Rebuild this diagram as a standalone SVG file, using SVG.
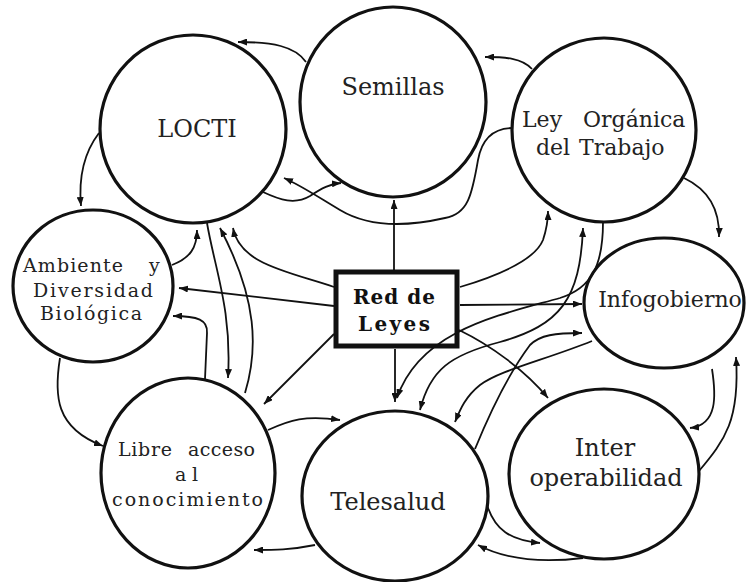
<svg xmlns="http://www.w3.org/2000/svg" width="748" height="582" viewBox="0 0 748 582">
<defs>
<marker id="ah" viewBox="0 0 9 7" refX="9" refY="3.5" markerWidth="9" markerHeight="7" markerUnits="userSpaceOnUse" orient="auto-start-reverse">
<path d="M0,0 L9,3.5 L0,7 z" fill="#111"/>
</marker>
<style>
.node{fill:#fff;stroke:#111;stroke-width:3.2}
.box{fill:#fff;stroke:#111;stroke-width:5}
.lbl{font-family:"DejaVu Serif","Liberation Serif",serif;fill:#222}
.big{font-size:24px}
.mid{font-size:22px}
.sm{font-size:19px}
.bold{font-size:20px;font-weight:bold;fill:#111}
.c{fill:none;stroke:#111;stroke-width:1.8;marker-end:url(#ah)}
.d{fill:none;stroke:#111;stroke-width:1.8;marker-start:url(#ah);marker-end:url(#ah)}
</style>
</defs>
<rect width="748" height="582" fill="#fff"/>

<g id="n-locti">
<ellipse class="node" cx="193" cy="129" rx="93" ry="94"/>
<text class="lbl big" x="197" y="137" text-anchor="middle">LOCTI</text>
</g>
<g id="n-semillas">
<ellipse class="node" cx="393" cy="102" rx="93" ry="95"/>
<text class="lbl big" x="393" y="95" text-anchor="middle">Semillas</text>
</g>
<g id="n-ley">
<ellipse class="node" cx="604" cy="130" rx="92" ry="92"/>
<text class="lbl mid" y="127"><tspan x="522">Ley</tspan><tspan x="583">Orgánica</tspan></text>
<text class="lbl mid" y="155"><tspan x="536">del</tspan><tspan x="579">Trabajo</tspan></text>
</g>
<g id="n-infogobierno">
<ellipse class="node" cx="664" cy="303" rx="80" ry="65"/>
<text class="lbl mid" x="670" y="307" text-anchor="middle">Infogobierno</text>
</g>
<g id="n-inter">
<ellipse class="node" cx="604" cy="474" rx="95" ry="85"/>
<text class="lbl big" x="605" y="456" text-anchor="middle">Inter</text>
<text class="lbl big" x="606" y="486" text-anchor="middle">operabilidad</text>
</g>
<g id="n-telesalud">
<ellipse class="node" cx="395" cy="496" rx="93" ry="85"/>
<text class="lbl big" x="388" y="510" text-anchor="middle">Telesalud</text>
</g>
<g id="n-libre">
<ellipse class="node" cx="188" cy="473" rx="87" ry="95"/>
<text class="lbl sm" y="456"><tspan x="118" textLength="54" lengthAdjust="spacing">Libre</tspan><tspan x="188" textLength="67" lengthAdjust="spacing">acceso</tspan></text>
<text class="lbl sm" x="175" y="481" textLength="23" lengthAdjust="spacing">a l</text>
<text class="lbl sm" x="112" y="506" textLength="151" lengthAdjust="spacing">conocimiento</text>
</g>
<g id="n-ambiente">
<ellipse class="node" cx="93" cy="286" rx="80" ry="76"/>
<text class="lbl sm" y="272"><tspan x="23" textLength="100" lengthAdjust="spacing">Ambiente</tspan><tspan x="149">y</tspan></text>
<text class="lbl sm" x="33" y="297" textLength="120" lengthAdjust="spacing">Diversidad</text>
<text class="lbl sm" x="40" y="320" textLength="102" lengthAdjust="spacing">Biológica</text>
</g>
<g id="n-red">
<rect class="box" x="336" y="272" width="121" height="74"/>
<text class="lbl bold" x="353" y="304" textLength="82" lengthAdjust="spacing">Red de</text>
<text class="lbl bold" x="358" y="331" textLength="72" lengthAdjust="spacing">Leyes</text>
</g>

<g id="connectors">
<path class="c" d="M306,62 C295,46 272,42 238,42"/>
<path class="c" d="M532,69 C522,58 505,57 485,57"/>
<path class="c" d="M99,133 C86,150 78,172 81,206"/>
<path class="c" d="M684,178 C705,188 720,205 719,237"/>
<path class="c" d="M172,265 C190,258 197,248 197,230"/>
<path class="c" d="M334,306 L179,288"/>
<path class="c" d="M205,379 L207,333 C208,320 198,316 173,316"/>
<path class="c" d="M60,358 C54,395 55,428 103,446"/>
<path class="c" d="M207,223 C215,270 232,310 228,378"/>
<path class="c" d="M245,393 C258,350 258,300 220,228"/>
<path class="c" d="M334,287 C290,272 240,265 233,228"/>
<path class="c" d="M334,334 L264,404"/>
<path class="c" d="M268,430 C290,420 305,415 340,420"/>
<path class="c" d="M315,545 C290,550 275,550 254,550"/>
<path class="c" d="M394,270 L394,200"/>
<path class="c" d="M395,349 L395,402"/>
<path class="c" d="M460,305 L582,304"/>
<path class="c" d="M460,287 C500,275 535,260 543,240 C547,228 548,220 548,211"/>
<path class="c" d="M459,330 C490,345 525,370 548,398"/>
<path class="c" d="M513,128 C495,128 482,138 478,160 C472,195 468,214 445,218 C410,226 370,228 340,210 C315,195 300,185 284,178"/>
<path class="c" d="M263,192 C280,200 295,205 310,196 C322,188 330,184 341,183"/>
<path class="c" d="M603,222 C603,265 592,288 560,298 C500,315 420,330 397,398"/>
<path class="d" d="M420,410 C430,370 450,355 500,342 C560,325 580,300 583,228"/>
<path class="c" d="M592,341 C545,360 500,370 480,385 C465,397 460,410 455,422"/>
<path class="c" d="M475,449 C495,400 515,365 530,345 C540,335 555,333 582,333"/>
<path class="c" d="M712,369 C716,395 718,425 690,428"/>
<path class="c" d="M699,471 C725,440 740,420 736,357"/>
<path class="c" d="M487,505 C495,530 510,540 540,543"/>
<path class="c" d="M583,558 C550,562 510,562 478,545"/>
</g>
</svg>
